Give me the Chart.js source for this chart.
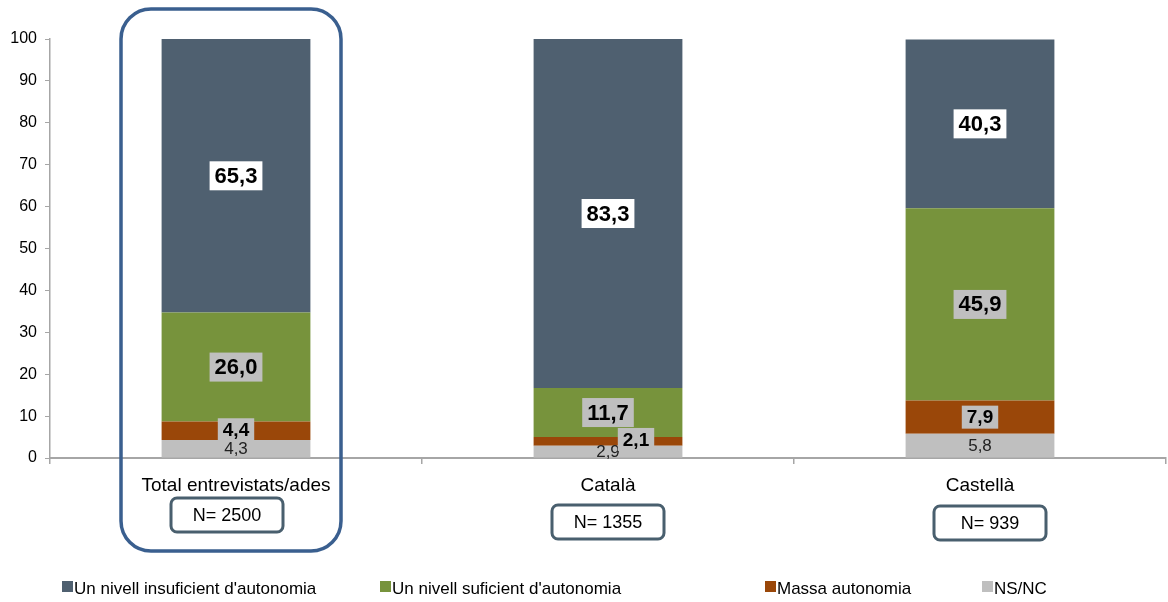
<!DOCTYPE html>
<html>
<head>
<meta charset="utf-8">
<script src="https://cdn.jsdelivr.net/npm/chart.js@4.4.1/dist/chart.umd.min.js"></script>
<style>
  html, body { margin: 0; padding: 0; background: #fff; }
  #wrap { width: 1168px; height: 602px; position: relative; }
</style>
</head>
<body>
<div id="wrap"><canvas id="chart"></canvas></div>
<script>
// categories and sample sizes
const categories = ['Total entrevistats/ades', 'Català', 'Castellà'];
const sampleSizes = ['N= 2500', 'N= 1355', 'N= 939'];

// series, bottom of the stack first
const nsnc = [4.3, 2.9, 5.8];
const massa = [4.4, 2.1, 7.9];
const suficient = [26.0, 11.7, 45.9];
const insuficient = [65.3, 83.3, 40.3];

const yTicks = [0, 10, 20, 30, 40, 50, 60, 70, 80, 90, 100];

const FONT = '"Liberation Sans", Arial, sans-serif';

// label look per series (box colour, bold, size, box padding)
const labelStyle = [
  { box: null, bold: false, size: 17, pad: 0, color: '#222' },       // NS/NC
  { box: '#BFBFBF', bold: true, size: 19, pad: 4, color: '#000' },   // Massa
  { box: '#BFBFBF', bold: true, size: 22, pad: 7, color: '#000' },   // suficient
  { box: '#FFFFFF', bold: true, size: 22, pad: 7, color: '#000' }    // insuficient
];

// small nudges where labels would collide (Català small values)
function labelNudge(ds, i) {
  if (ds === 1 && i === 1) return [28, -2];
  if (ds === 1 && i === 0) return [0, -1];
  return [0, 0];
}

const labelPlugin = {
  id: 'labels',
  afterDatasetsDraw(chart) {
    const ctx = chart.ctx;
    chart.data.datasets.forEach((ds, d) => {
      const meta = chart.getDatasetMeta(d);
      const st = labelStyle[d];
      meta.data.forEach((bar, i) => {
        const txt = ds.data[i].toFixed(1).replace('.', ',');
        const pos = bar.getCenterPoint();
        const nud = labelNudge(d, i);
        const x = pos.x + nud[0], y = pos.y + nud[1];
        ctx.save();
        ctx.font = (st.bold ? 'bold ' : '') + st.size + 'px ' + FONT;
        const w = ctx.measureText(txt).width;
        if (st.box) {
          const h = st.size + st.pad;
          ctx.fillStyle = st.box;
          ctx.fillRect(x - w / 2 - 5, y - h / 2, w + 10, h);
        }
        ctx.fillStyle = st.color;
        ctx.textAlign = 'center';
        ctx.textBaseline = 'middle';
        ctx.fillText(txt, x, y + 1);
        ctx.restore();
      });
    });
  }
};

function roundRect(ctx, x, y, w, h, r) {
  ctx.beginPath();
  ctx.moveTo(x + r, y);
  ctx.arcTo(x + w, y, x + w, y + h, r);
  ctx.arcTo(x + w, y + h, x, y + h, r);
  ctx.arcTo(x, y + h, x, y, r);
  ctx.arcTo(x, y, x + w, y, r);
  ctx.closePath();
}

// N= boxes, the frame round the first group and the legend
const decoPlugin = {
  id: 'deco',
  afterDraw(chart) {
    const ctx = chart.ctx;
    const xs = chart.scales.x;
    const boxTop = [498, 505, 506];
    const boxShift = [-9, 0, 10];
    ctx.save();
    categories.forEach((c, i) => {
      const cx = xs.getPixelForValue(i) + boxShift[i];
      ctx.lineWidth = 3;
      ctx.strokeStyle = '#495F6E';
      roundRect(ctx, cx - 56, boxTop[i], 112, 34, 6);
      ctx.stroke();
      ctx.fillStyle = '#000';
      ctx.font = '18px ' + FONT;
      ctx.textAlign = 'center';
      ctx.textBaseline = 'middle';
      ctx.fillText(sampleSizes[i], cx, boxTop[i] + 18);
    });
    // frame round "Total"
    const c0 = xs.getPixelForValue(0);
    ctx.lineWidth = 3.5;
    ctx.strokeStyle = '#3A5F8F';
    roundRect(ctx, c0 - 115, 9, 220, 542, 30);
    ctx.stroke();

    // legend, top series first
    const legX = [62, 380, 765, 982];
    const order = [3, 2, 1, 0];
    ctx.font = '17px ' + FONT;
    ctx.textAlign = 'left';
    ctx.textBaseline = 'middle';
    order.forEach((d, k) => {
      const ds = chart.data.datasets[d];
      ctx.fillStyle = ds.backgroundColor;
      ctx.fillRect(legX[k], 581, 11, 11);
      ctx.fillStyle = '#000';
      ctx.fillText(ds.label, legX[k] + 12, 589);
    });
    ctx.restore();
  }
};

const ctx = document.getElementById('chart').getContext('2d');
const myChart = new Chart(ctx, {
  type: 'bar',
  data: {
    labels: categories,
    datasets: [
      { label: 'NS/NC', data: nsnc, backgroundColor: '#BFBFBF' },
      { label: 'Massa autonomia', data: massa, backgroundColor: '#9A4709' },
      { label: "Un nivell suficient d'autonomia", data: suficient, backgroundColor: '#77933C' },
      { label: "Un nivell insuficient d'autonomia", data: insuficient, backgroundColor: '#4F6070' }
    ]
  },
  options: {
    responsive: true,
    maintainAspectRatio: false,
    animation: false,
    devicePixelRatio: 1,
    layout: { padding: { top: 39, right: 2, left: 0, bottom: 0 } },
    datasets: { bar: { categoryPercentage: 1, barPercentage: 0.4 } },
    plugins: { legend: { display: false }, tooltip: { enabled: false } },
    scales: {
      x: {
        stacked: true,
        afterFit: s => { s.height = 144; },
        grid: { display: true, offset: true, drawOnChartArea: false, tickLength: 6, color: '#A6A6A6', lineWidth: 1.5 },
        border: { display: true, color: '#A6A6A6', width: 2 },
        ticks: { color: '#000', font: { family: FONT, size: 19 }, padding: 10 }
      },
      y: {
        stacked: true,
        min: 0, max: 100,
        afterFit: s => { s.width = 50; },
        afterBuildTicks: s => { s.ticks = yTicks.map(v => ({ value: v })); },
        grid: { display: true, drawOnChartArea: false, tickLength: 5, color: '#A6A6A6' },
        border: { display: true, color: '#A6A6A6', width: 1.5 },
        ticks: { color: '#000', font: { family: FONT, size: 16 }, padding: 8 }
      }
    }
  },
  plugins: [labelPlugin, decoPlugin]
});
</script>
</body>
</html>
